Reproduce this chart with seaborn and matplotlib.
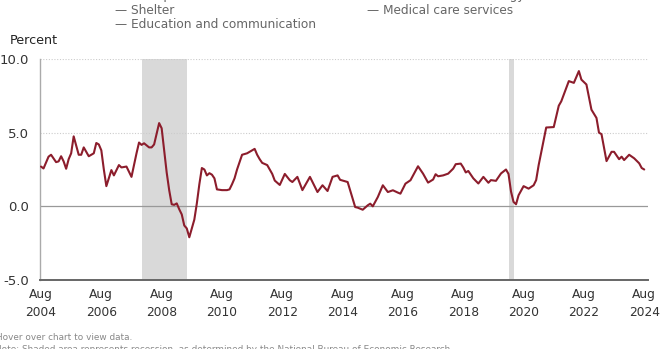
import numpy as np
import pandas as pd
import matplotlib
matplotlib.use("Agg")
import matplotlib.pyplot as plt
import seaborn as sns

# Months since Aug 2004 (readings from the chart) and percent values
months = [0, 1, 3, 4, 6, 7, 8, 9, 10, 11, 12, 13, 15, 16, 17, 19, 21, 22, 23, 24,
          25, 26, 28, 29, 31, 32, 34, 36, 37, 38, 39, 40, 41, 43, 44, 45, 47, 48, 49, 50,
          51, 52, 53, 54, 55, 56, 57, 58, 59, 60, 61, 62, 63, 64, 65, 66, 67, 68, 69, 70,
          72, 74, 75, 76, 77, 78, 79, 80, 82, 84, 85, 86, 87, 88, 90, 91, 92, 93, 95, 97,
          99, 100, 102, 104, 107, 110, 112, 114, 116, 118, 119, 122, 123, 125, 126, 128, 130, 131, 132, 134,
          136, 138, 140, 142, 143, 145, 147, 150, 152, 154, 156, 157, 158, 160, 162, 164, 165, 167, 168, 169,
          170, 172, 174, 176, 178, 179, 181, 183, 185, 186, 187, 188, 189, 190, 192, 194, 196, 197, 198, 200,
          201, 204, 206, 207, 210, 212, 214, 215, 217, 219, 221, 222, 223, 225, 227, 228, 230, 231, 232, 234,
          236, 238, 239, 240]
values = [2.7, 2.57, 3.37, 3.5, 3.0, 3.05, 3.4, 3.05, 2.55, 3.2, 3.6, 4.75, 3.5, 3.5, 4.0, 3.4, 3.6, 4.3, 4.2, 3.8,
          2.5, 1.37, 2.46, 2.1, 2.8, 2.64, 2.7, 2.0, 2.8, 3.6, 4.33, 4.17, 4.28, 4.0, 4.0, 4.2, 5.65, 5.3, 3.8, 2.3,
          1.1, 0.14, 0.1, 0.2, -0.2, -0.55, -1.3, -1.5, -2.1, -1.5, -0.9, 0.2, 1.5, 2.6, 2.5, 2.1, 2.25, 2.15, 1.9, 1.15,
          1.1, 1.1, 1.15, 1.5, 1.9, 2.5, 3.0, 3.5, 3.6, 3.8, 3.9, 3.5, 3.2, 2.95, 2.8, 2.5, 2.2, 1.75, 1.45, 2.2,
          1.77, 1.65, 2.0, 1.1, 2.0, 0.97, 1.43, 1.04, 2.0, 2.1, 1.8, 1.65, 1.09, -0.05, -0.09, -0.23, 0.07, 0.18, 0.0, 0.63,
          1.43, 0.97, 1.09, 0.93, 0.86, 1.54, 1.77, 2.72, 2.22, 1.61, 1.82, 2.18, 2.04, 2.1, 2.22, 2.56, 2.86, 2.9, 2.64, 2.3,
          2.4, 1.9, 1.55, 2.0, 1.6, 1.78, 1.73, 2.23, 2.5, 2.2, 1.0, 0.3, 0.14, 0.75, 1.37, 1.2, 1.43, 1.78, 2.8, 4.5,
          5.35, 5.38, 6.83, 7.13, 8.5, 8.38, 9.18, 8.6, 8.27, 6.56, 6.0, 5.0, 4.9, 3.07, 3.7, 3.7, 3.2, 3.37, 3.14, 3.5,
          3.26, 2.92, 2.6, 2.5]

tick_months = [0, 24, 48, 72, 96, 120, 144, 168, 192, 216, 240]
tick_labels = ["Aug\n2004", "Aug\n2006", "Aug\n2008", "Aug\n2010", "Aug\n2012", "Aug\n2014",
               "Aug\n2016", "Aug\n2018", "Aug\n2020", "Aug\n2022", "Aug\n2024"]
y_ticks = [-5.0, 0.0, 5.0, 10.0]
recessions = [(40, 58), (186, 188)]
legend_rows = [["Transportation services", "Information technology"],
               ["Shelter", "Medical care services"],
               ["Education and communication", None]]

sns.set_style("white")
plt.rcParams['font.family'] = ['DejaVu Sans']

W, H = 666, 349
fig = plt.figure(figsize=(W / 100, H / 100), dpi=100)
ax = fig.add_axes([40 / W, (H - 280) / H, 608 / W, (280 - 59) / H])

df = pd.DataFrame({"month": months, "value": values})
for a, b in recessions:
    ax.axvspan(a, b, color="#d9d9d9", lw=0, zorder=0)

for yv in [5.0, 10.0]:
    ax.axhline(yv, color="#cccccc", lw=0.8, ls=(0, (1, 1.5)), zorder=1)
ax.axhline(0.0, color="#999999", lw=0.9, zorder=1)

sns.lineplot(data=df, x="month", y="value", ax=ax, color="#8c1d2c", lw=1.5, zorder=3)

ax.set_xlim(-0.4, 241.5)
ax.set_ylim(-5, 10)
ax.set_xticks(tick_months)
ax.set_xticklabels(tick_labels, fontsize=8.8, color="#333333", linespacing=1.5)
ax.set_yticks(y_ticks)
ax.set_yticklabels([f"{v:.1f}" for v in y_ticks], fontsize=9.5, color="#333333")
ax.tick_params(axis="x", length=0, pad=6)
ax.tick_params(axis="y", length=6, width=0.8, color="#aaaaaa", pad=2)
ax.set_xlabel("")
ax.set_ylabel("")

for s in ["top", "right"]:
    ax.spines[s].set_visible(False)
ax.spines["left"].set_color("#aaaaaa")
ax.spines["left"].set_linewidth(1.0)
ax.spines["bottom"].set_color("#666666")
ax.spines["bottom"].set_linewidth(1.4)

# Legend rows (top, partly cut off)
row_y = [-5, 11, 25]
col_x = [115, 367]
for ry, row in zip(row_y, legend_rows):
    for cx, lab in zip(col_x, row):
        if lab is None:
            continue
        fig.text(cx / W, 1 - ry / H, "\u2014 " + lab, fontsize=8.7, color="#666666",
                 ha="left", va="center")

fig.text(10 / W, 1 - 40 / H, "Percent", fontsize=9.2, color="#222222", ha="left", va="center")
fig.text(-4 / W, 1 - 337 / H, "Hover over chart to view data.", fontsize=6.4,
         color="#888888", ha="left", va="center")
fig.text(-5 / W, 1 - 349 / H,
         "Note: Shaded area represents recession, as determined by the National Bureau of Economic Research.",
         fontsize=6.4, color="#888888", ha="left", va="center")

fig.savefig("out.png", dpi=100)
